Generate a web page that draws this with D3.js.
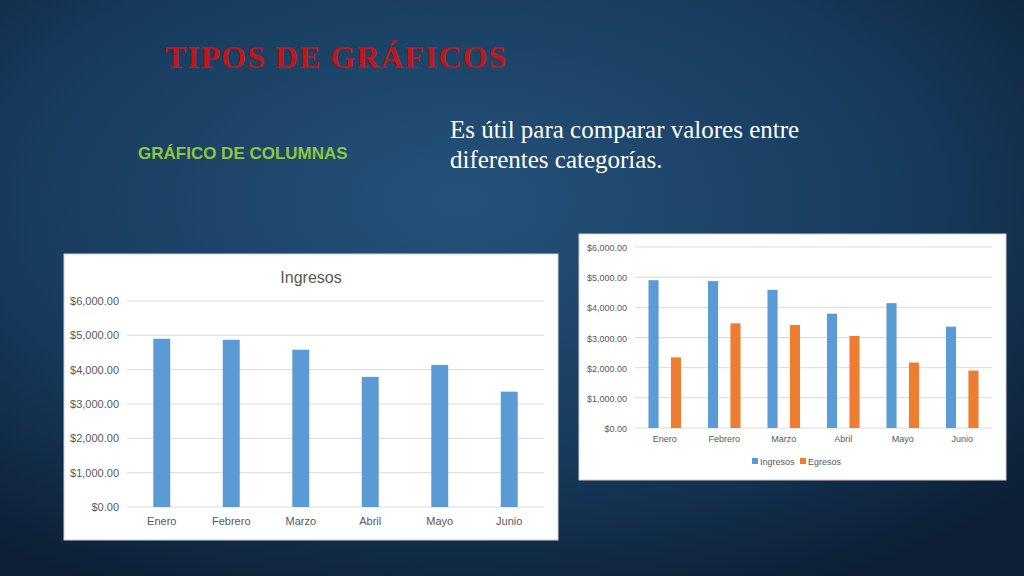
<!DOCTYPE html>
<html><head><meta charset="utf-8">
<script src="https://cdn.jsdelivr.net/npm/d3@7"></script>
<style>body{margin:0;overflow:hidden}</style>
</head><body>
<svg id="s" width="1024" height="576"></svg>
<script>
const months = ["Enero", "Febrero", "Marzo", "Abril", "Mayo", "Junio"];
const ingresos = [4900, 4870, 4580, 3790, 4140, 3360];
const egresos = [2340, 3470, 3415, 3050, 2170, 1905];
const yTicks = [0, 1000, 2000, 3000, 4000, 5000, 6000];

const svg = d3.select("#s");
const defs = svg.append("defs");
const g = defs.append("radialGradient").attr("id", "bg").attr("cx", "45%").attr("cy", "35%").attr("r", "75%");
g.append("stop").attr("offset", "0%").attr("stop-color", "#25527a");
g.append("stop").attr("offset", "60%").attr("stop-color", "#173a5c");
g.append("stop").attr("offset", "100%").attr("stop-color", "#0c1f35");
svg.append("rect").attr("width", 1024).attr("height", 576).attr("fill", "url(#bg)");

// slide text
svg.append("text").attr("x", 165).attr("y", 68).attr("fill", "#c0171b")
  .attr("font-family", "Liberation Serif").attr("font-weight", "bold").attr("font-size", 32)
  .attr("letter-spacing", 1).text("TIPOS DE GRÁFICOS");
svg.append("text").attr("x", 138).attr("y", 159).attr("fill", "#8dc63f")
  .attr("font-family", "Liberation Sans").attr("font-weight", "bold").attr("font-size", 17)
  .text("GRÁFICO DE COLUMNAS");
svg.append("text").attr("x", 450).attr("y", 138).attr("fill", "#fff")
  .attr("font-family", "Liberation Serif").attr("font-size", 25).text("Es útil para comparar valores entre");
svg.append("text").attr("x", 450).attr("y", 168).attr("fill", "#fff")
  .attr("font-family", "Liberation Serif").attr("font-size", 25).text("diferentes categorías.");

const fmt = d => "$" + d3.format(",.2f")(d);

function chart(box, plot, series, colors, opts) {
  const c = svg.append("g");
  c.append("rect").attr("x", box.x).attr("y", box.y).attr("width", box.w).attr("height", box.h)
    .attr("fill", "#fff").attr("stroke", "#d0d0d0");
  const x = d3.scaleBand().domain(months).range([plot.x0, plot.x1]);
  const y = d3.scaleLinear().domain([0, 6000]).range([plot.y0, plot.y1]);
  c.selectAll(".grid").data(yTicks).join("line")
    .attr("x1", plot.x0).attr("x2", plot.x1).attr("y1", d => y(d)).attr("y2", d => y(d))
    .attr("stroke", "#d9d9d9");
  c.selectAll(".yl").data(yTicks).join("text")
    .attr("x", plot.x0 - 8).attr("y", d => y(d) + 4).attr("text-anchor", "end")
    .attr("font-family", "Liberation Sans").attr("font-size", opts.fs).attr("fill", "#595959").text(fmt);
  c.selectAll(".xl").data(months).join("text")
    .attr("x", d => x(d) + x.bandwidth() / 2).attr("y", plot.y0 + opts.xlOff).attr("text-anchor", "middle")
    .attr("font-family", "Liberation Sans").attr("font-size", opts.fs).attr("fill", "#595959").text(d => d);
  const inner = d3.scaleBand().domain(d3.range(series.length)).range([0, x.bandwidth()])
    .paddingInner(opts.gap).paddingOuter(opts.outer);
  series.forEach((s, i) => {
    c.selectAll(".b" + i).data(s).join("rect")
      .attr("x", (d, j) => x(months[j]) + inner(i)).attr("width", inner.bandwidth())
      .attr("y", d => y(d)).attr("height", d => y(0) - y(d)).attr("fill", colors[i]);
  });
  return c;
}

const left = chart({x: 64, y: 254, w: 494, h: 286}, {x0: 127, x1: 544, y0: 507, y1: 301},
  [ingresos], ["#5b9bd5"], {fs: 11, xlOff: 18, gap: 0, outer: 1.55});
left.append("text").attr("x", 311).attr("y", 283).attr("text-anchor", "middle")
  .attr("font-family", "Liberation Sans").attr("font-size", 16).attr("fill", "#595959").text("Ingresos");

const right = chart({x: 579, y: 234, w: 427, h: 246}, {x0: 635, x1: 992, y0: 428, y1: 247},
  [ingresos, egresos], ["#5b9bd5", "#ed7d31"], {fs: 9, xlOff: 14, gap: 0.55, outer: 0.6});
const lg = [["Ingresos", "#5b9bd5", 752], ["Egresos", "#ed7d31", 800]];
lg.forEach(([t, col, lx]) => {
  right.append("rect").attr("x", lx).attr("y", 458).attr("width", 6).attr("height", 6).attr("fill", col);
  right.append("text").attr("x", lx + 8).attr("y", 465).attr("font-family", "Liberation Sans")
    .attr("font-size", 9).attr("fill", "#595959").text(t);
});
</script>
</body></html>
